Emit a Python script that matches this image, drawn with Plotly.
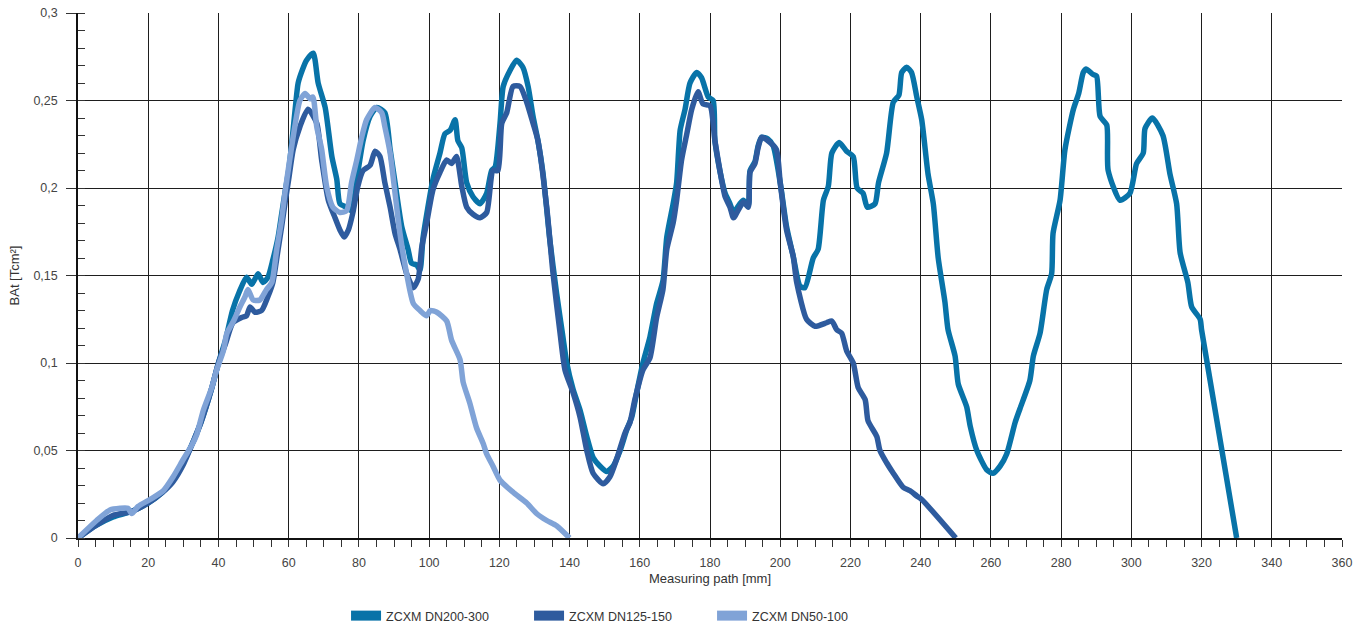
import plotly.graph_objects as go

# ---- data ----
x_dn200 = [0, 5, 10, 15, 20, 24, 27, 30, 33, 35, 38, 40, 42, 44, 46, 48, 49.5, 51.3, 52.7, 54.1, 55.5, 57, 58, 59, 60, 61, 62, 62.7, 64, 65.1, 67, 68.4, 70.4, 72.3, 73.7, 74.6, 76.5, 77.9, 79.4, 81.2, 83.2, 85.1, 87.4, 88.9, 90.3, 92.2, 94, 95, 96.5, 97.4, 98.3, 101.1, 103.1, 104.5, 106, 107.4, 108.2, 109.3, 110.7, 112.5, 114.5, 116.4, 117.8, 118.8, 120.2, 121.1, 123, 124.9, 126.7, 128.2, 129.6, 131, 132.4, 134.4, 136.3, 138.1, 139.2, 141, 143, 144.9, 146.7, 148.7, 150.6, 152.4, 154.4, 156.3, 157.7, 159.1, 160.9, 162.9, 164.8, 166.6, 167.7, 169.5, 170.5, 171.5, 172.9, 174.3, 176.2, 177.6, 179.5, 180.9, 181.4, 182.9, 184.3, 185.7, 186.7, 188.5, 189.5, 190.9, 191.4, 192.8, 193.7, 194.7, 196.5, 198, 200, 201.8, 203.7, 205.6, 207, 209.4, 210.8, 212.3, 213.7, 214.7, 216.8, 218.9, 220.8, 221.9, 223.6, 224.8, 227, 228, 230.3, 232.2, 233.8, 234.6, 236, 237.4, 238.9, 240.3, 242.1, 243.6, 245, 246.9, 247.8, 249.8, 250.7, 253.1, 254.1, 256, 258.8, 260.6, 262.6, 264.5, 266.9, 268.3, 271.1, 272.1, 274, 275.9, 277.3, 277.7, 279.7, 281.1, 283.5, 285, 286.3, 287.1, 289, 290.1, 291.1, 293, 293.4, 296.8, 299.6, 301.5, 303.4, 303.9, 306, 309, 311, 312.9, 313.9, 316.1, 317.2, 319.6, 320, 330]
y_dn200 = [0, 0.007, 0.012, 0.015, 0.02, 0.026, 0.033, 0.043, 0.056, 0.066, 0.085, 0.1, 0.113, 0.13, 0.141, 0.149, 0.145, 0.151, 0.146, 0.149, 0.159, 0.172, 0.185, 0.198, 0.21, 0.228, 0.248, 0.26, 0.268, 0.273, 0.277, 0.26, 0.246, 0.218, 0.205, 0.191, 0.189, 0.187, 0.205, 0.227, 0.241, 0.246, 0.243, 0.222, 0.203, 0.178, 0.165, 0.157, 0.156, 0.153, 0.172, 0.205, 0.22, 0.231, 0.233, 0.239, 0.227, 0.223, 0.203, 0.195, 0.191, 0.197, 0.21, 0.212, 0.237, 0.258, 0.267, 0.273, 0.269, 0.258, 0.241, 0.227, 0.209, 0.17, 0.14, 0.115, 0.1, 0.085, 0.073, 0.058, 0.046, 0.041, 0.038, 0.041, 0.05, 0.062, 0.069, 0.083, 0.1, 0.115, 0.134, 0.147, 0.172, 0.191, 0.203, 0.233, 0.245, 0.26, 0.266, 0.263, 0.252, 0.25, 0.227, 0.209, 0.197, 0.191, 0.186, 0.191, 0.193, 0.19, 0.21, 0.215, 0.224, 0.229, 0.228, 0.224, 0.203, 0.178, 0.161, 0.144, 0.143, 0.16, 0.165, 0.193, 0.201, 0.22, 0.226, 0.221, 0.218, 0.2, 0.197, 0.189, 0.191, 0.203, 0.22, 0.249, 0.253, 0.266, 0.269, 0.266, 0.252, 0.239, 0.208, 0.191, 0.16, 0.135, 0.119, 0.104, 0.088, 0.075, 0.064, 0.05, 0.039, 0.037, 0.041, 0.048, 0.066, 0.074, 0.09, 0.104, 0.117, 0.142, 0.151, 0.174, 0.193, 0.222, 0.245, 0.254, 0.266, 0.268, 0.265, 0.264, 0.241, 0.236, 0.21, 0.193, 0.197, 0.214, 0.22, 0.234, 0.24, 0.23, 0.208, 0.191, 0.163, 0.146, 0.132, 0.125, 0.119, 0]

x_dn125 = [0, 5, 10, 15, 20, 24, 27, 30, 33, 35, 38, 40, 42, 44.1, 46.6, 48, 49, 50.4, 52.3, 54.1, 55.5, 57, 58, 59, 60, 61.3, 63.2, 65.5, 68, 69.4, 71.3, 73.2, 74.6, 75.8, 77, 78.3, 79.7, 81.2, 83.2, 84.6, 86, 87.4, 88.9, 90.3, 91.7, 93.6, 95.5, 96.9, 97.9, 99.3, 101.1, 103.1, 105, 106.4, 107.8, 109.3, 110.7, 112.5, 114.5, 116.4, 118.2, 119.6, 120.7, 122.1, 123.9, 125.9, 127.8, 129.6, 131, 133.5, 135.3, 137.3, 138.7, 141, 143, 144.9, 146.7, 149.6, 151.5, 153.4, 155.8, 157.2, 158.6, 160.9, 162.9, 164.8, 166.6, 167.7, 169.5, 170.5, 171.9, 173.4, 174.8, 176.6, 178, 180, 181.4, 182.9, 184.3, 185.7, 186.7, 188.5, 189.5, 190.9, 191.4, 192.8, 193.7, 194.7, 196.5, 198.9, 200, 201.8, 203.7, 204.7, 207.5, 209.9, 213.2, 214.7, 216.1, 217.5, 218.9, 220.8, 222.2, 224.2, 225, 227.5, 228.4, 230.3, 232.2, 235, 237, 238.9, 240.3, 250]
y_dn125 = [0, 0.007, 0.013, 0.015, 0.02, 0.026, 0.032, 0.042, 0.056, 0.066, 0.085, 0.1, 0.111, 0.123, 0.126, 0.127, 0.132, 0.129, 0.13, 0.138, 0.146, 0.165, 0.178, 0.192, 0.205, 0.222, 0.235, 0.245, 0.237, 0.216, 0.193, 0.183, 0.176, 0.172, 0.176, 0.186, 0.201, 0.21, 0.213, 0.221, 0.218, 0.203, 0.189, 0.174, 0.165, 0.151, 0.143, 0.148, 0.166, 0.18, 0.199, 0.209, 0.216, 0.214, 0.218, 0.201, 0.189, 0.185, 0.183, 0.186, 0.21, 0.21, 0.237, 0.243, 0.258, 0.258, 0.249, 0.237, 0.227, 0.189, 0.151, 0.117, 0.096, 0.083, 0.069, 0.05, 0.037, 0.031, 0.035, 0.045, 0.06, 0.066, 0.079, 0.096, 0.103, 0.126, 0.142, 0.165, 0.18, 0.193, 0.216, 0.231, 0.245, 0.255, 0.248, 0.247, 0.227, 0.209, 0.195, 0.189, 0.183, 0.189, 0.192, 0.189, 0.209, 0.214, 0.223, 0.229, 0.227, 0.222, 0.203, 0.176, 0.161, 0.146, 0.125, 0.121, 0.123, 0.124, 0.119, 0.117, 0.107, 0.1, 0.086, 0.079, 0.067, 0.058, 0.05, 0.043, 0.037, 0.029, 0.027, 0.024, 0.022, 0]

x_dn50 = [0, 5.3, 9.1, 12, 14.2, 15.3, 17.1, 20.5, 24.3, 27.1, 30, 32.4, 33.8, 35.7, 38.1, 39.5, 41.4, 42.4, 44.3, 46.1, 47.6, 48.4, 49.9, 51.8, 53.7, 55.2, 56.6, 58, 59, 60, 61.5, 63.2, 64.7, 66.1, 66.9, 68, 69.4, 70.8, 72.6, 74.6, 76.5, 77.9, 79.4, 80.8, 82.2, 84.6, 86.5, 87.4, 88.9, 90.3, 91.7, 93.6, 95.5, 97.4, 99.3, 100.3, 102.2, 105, 106.4, 108.8, 109.7, 111.6, 113.5, 115.4, 116.4, 118.2, 120.2, 124, 127.8, 130.6, 133.5, 136.3, 140]
y_dn50 = [0, 0.01, 0.016, 0.017, 0.017, 0.014, 0.018, 0.022, 0.027, 0.035, 0.045, 0.053, 0.059, 0.073, 0.086, 0.096, 0.107, 0.117, 0.124, 0.132, 0.138, 0.142, 0.136, 0.136, 0.142, 0.146, 0.165, 0.182, 0.198, 0.212, 0.232, 0.25, 0.254, 0.251, 0.252, 0.235, 0.222, 0.201, 0.189, 0.186, 0.187, 0.203, 0.216, 0.229, 0.239, 0.246, 0.243, 0.235, 0.22, 0.197, 0.174, 0.151, 0.134, 0.13, 0.127, 0.13, 0.129, 0.124, 0.113, 0.102, 0.089, 0.077, 0.063, 0.054, 0.048, 0.041, 0.033, 0.026, 0.02, 0.014, 0.01, 0.007, 0]

series_names = ["ZCXM DN200-300", "ZCXM DN125-150", "ZCXM DN50-100"]
series_colors = ["#0873a8", "#2e5b9e", "#80a3d7"]

x_tickvals = list(range(0, 361, 20))
x_ticktext = [str(v) for v in x_tickvals]
y_tickvals = [0, 0.05, 0.1, 0.15, 0.2, 0.25, 0.3]
y_ticktext = ["0", "0,05", "0,1", "0,15", "0,2", "0,25", "0,3"]

xs = [x_dn200, x_dn125, x_dn50]
ys = [y_dn200, y_dn125, y_dn50]

fig = go.Figure()
for xv, yv, name, col in zip(xs, ys, series_names, series_colors):
    fig.add_trace(go.Scatter(x=xv, y=yv, mode="lines", name=name, legendgroup=name,
                             showlegend=False, cliponaxis=False,
                             line=dict(color=col, width=5.5, shape="spline", smoothing=0.6)))
for name, col in zip(series_names, series_colors):
    fig.add_trace(go.Scatter(x=[None], y=[None], mode="lines", name=name, legendgroup=name,
                             showlegend=True, line=dict(color=col, width=10)))

grid_col = "#1e1e1e"
fig.update_layout(
    width=1364, height=625,
    margin=dict(l=78, r=22, t=13, b=87),
    paper_bgcolor="white", plot_bgcolor="white",
    font=dict(family="Liberation Sans, Arial, sans-serif", size=12, color="#444"),
    showlegend=True,
    legend=dict(orientation="h", xref="container", yref="container",
                x=0.2537, xanchor="left", y=0.0144, yanchor="middle",
                entrywidth=138, entrywidthmode="pixels", font=dict(size=12.5, color="#333"),
                itemwidth=30, traceorder="normal"),
    xaxis=dict(range=[0, 360], tickvals=x_tickvals, ticktext=x_ticktext, automargin=False,
               showgrid=True, gridcolor=grid_col, gridwidth=1,
               showline=True, linecolor="#111", linewidth=1.5,
               ticks="outside", ticklen=7, tickcolor="#333", ticklabelstandoff=5,
               minor=dict(dtick=5, ticks="outside", ticklen=7, tickcolor="#333", showgrid=False),
               zeroline=False, tickfont=dict(size=12.5, color="#444"),
               title=dict(text="Measuring path [mm]", font=dict(size=13, color="#333"), standoff=5)),
    yaxis=dict(range=[0, 0.3], tickvals=y_tickvals, ticktext=y_ticktext, automargin=False,
               showgrid=True, gridcolor=grid_col, gridwidth=1,
               showline=True, linecolor="#111", linewidth=1.5,
               ticks="outside", ticklen=10, tickcolor="#333", ticklabelstandoff=6,
               minor=dict(dtick=0.01, ticks="inside", ticklen=7, tickcolor="#333", showgrid=False),
               zeroline=False, tickfont=dict(size=12.5, color="#444"),
               title=dict(text="BAt [Tcm²]", font=dict(size=13, color="#333"), standoff=11)),
)

fig.write_html("out.html", config={"displayModeBar": False},
               post_script="document.body.style.margin='0';")
